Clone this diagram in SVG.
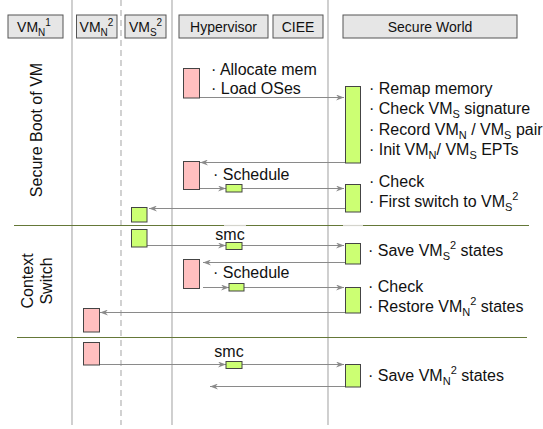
<svg xmlns="http://www.w3.org/2000/svg" width="543" height="429" viewBox="0 0 543 429">
  <style>
    text { font-family: "Liberation Sans", Arial, Helvetica, sans-serif; fill: #111; }
    .hdr rect { fill: #e6e6e6; stroke: #555; stroke-width: 1; }
    .hdr text { font-size: 14px; text-anchor: middle; }
    .body { font-size: 16px; }
    .lane { stroke: #c4c4c4; stroke-width: 1.6; }
    .lane-dash { stroke: #b4b4b4; stroke-width: 1.2; stroke-dasharray: 6 4; }
    .sep { stroke: #657838; stroke-width: 1; }
    .pink { fill: #ffc0c0; stroke: #444; stroke-width: 1; }
    .green { fill: #ccff73; stroke: #444; stroke-width: 1; }
    .conn line { stroke: #8a8a8a; stroke-width: 1; fill: none; }
    .conn line.arr { marker-end: url(#head); }
  </style>
  <defs>
    <marker id="head" viewBox="0 0 8 6" refX="8" refY="3" markerWidth="8" markerHeight="6" markerUnits="userSpaceOnUse" orient="auto">
      <path d="M0,0 L8,3 L0,6 L2.5,3 z" fill="#8a8a8a"/>
    </marker>
  </defs>

  <rect width="543" height="429" fill="#ffffff"/>

  <!-- swimlane dividers -->
  <g id="lanes">
    <line class="lane" x1="72" y1="0" x2="72" y2="425"/>
    <line class="lane-dash" x1="121" y1="0" x2="121" y2="425"/>
    <line class="lane" x1="172" y1="0" x2="172" y2="425"/>
    <line class="lane" x1="328" y1="0" x2="328" y2="425"/>
  </g>

  <!-- phase separators -->
  <g id="phases">
    <line class="sep" x1="14" y1="225.5" x2="529" y2="225.5"/>
    <line class="sep" x1="17" y1="337.5" x2="527" y2="337.5"/>
    <line x1="224" y1="225.5" x2="246" y2="225.5" stroke="#d4d4cc" stroke-width="1.2"/>
    <line x1="343" y1="225.5" x2="363" y2="225.5" stroke="#d4d4cc" stroke-width="1.2"/>
    <text class="body" transform="translate(42,130) rotate(-90)" text-anchor="middle">Secure Boot of VM</text>
    <text class="body" transform="translate(33,281) rotate(-90)" text-anchor="middle">Context</text>
    <text class="body" transform="translate(52,281) rotate(-90)" text-anchor="middle">Switch</text>
  </g>

  <!-- column headers -->
  <g id="hdr-vmn1" class="hdr">
    <rect x="8" y="15" width="55" height="23"/>
    <text x="34" y="32">VM<tspan font-size="10" dy="4">N</tspan><tspan font-size="10" dy="-10">1</tspan></text>
  </g>
  <g id="hdr-vmn2" class="hdr">
    <rect x="76.5" y="15" width="40.5" height="23"/>
    <text x="96.5" y="32">VM<tspan font-size="10" dy="4">N</tspan><tspan font-size="10" dy="-10">2</tspan></text>
  </g>
  <g id="hdr-vms2" class="hdr">
    <rect x="125" y="15" width="41" height="23"/>
    <text x="145.5" y="32">VM<tspan font-size="10" dy="4">S</tspan><tspan font-size="10" dy="-10">2</tspan></text>
  </g>
  <g id="hdr-hyp" class="hdr">
    <rect x="179" y="15" width="89" height="23"/>
    <text x="223.5" y="32">Hypervisor</text>
  </g>
  <g id="hdr-ciee" class="hdr">
    <rect x="273" y="15" width="50" height="23"/>
    <text x="298" y="32">CIEE</text>
  </g>
  <g id="hdr-sw" class="hdr">
    <rect x="343" y="15" width="174" height="23"/>
    <text x="430" y="32">Secure World</text>
  </g>

  <!-- connectors -->
  <g id="connectors" class="conn">
    <line class="arr" x1="199" y1="97.5" x2="344" y2="97.5"/>
    <line class="arr" x1="345" y1="162.5" x2="200" y2="162.5"/>
    <line class="arr" x1="199" y1="188.5" x2="226" y2="188.5"/>
    <line class="arr" x1="242" y1="188.5" x2="344" y2="188.5"/>
    <line class="arr" x1="345" y1="208.5" x2="149" y2="208.5"/>
    <line class="arr" x1="147" y1="245.5" x2="226" y2="245.5"/>
    <line class="arr" x1="242" y1="245.5" x2="344" y2="245.5"/>
    <line class="arr" x1="345" y1="262.5" x2="203" y2="262.5"/>
    <line class="arr" x1="203" y1="287.5" x2="229" y2="287.5"/>
    <line class="arr" x1="244" y1="287.5" x2="344" y2="287.5"/>
    <line class="arr" x1="345" y1="312.5" x2="100" y2="312.5"/>
    <line class="arr" x1="99" y1="364.5" x2="226" y2="364.5"/>
    <line class="arr" x1="242" y1="364.5" x2="344" y2="364.5"/>
    <line class="arr" x1="345" y1="386.5" x2="210" y2="386.5"/>
  </g>

  <!-- hypervisor activations -->
  <g id="hyp-boot">
    <rect class="pink" x="183.5" y="68.5" width="16" height="29.5"/>
    <text class="body" x="211" y="75">· Allocate mem</text>
    <text class="body" x="211" y="94">· Load OSes</text>
  </g>
  <g id="hyp-schedule1">
    <rect class="pink" x="183.5" y="161.5" width="16" height="28"/>
    <text class="body" x="213" y="180">· Schedule</text>
  </g>
  <g id="ciee-call1">
    <rect class="green" x="226" y="184.5" width="16" height="7.5"/>
  </g>
  <g id="hyp-schedule2">
    <rect class="pink" x="183.5" y="259.5" width="16" height="29"/>
    <text class="body" x="213" y="278">· Schedule</text>
  </g>
  <g id="ciee-call2">
    <rect class="green" x="229" y="283.5" width="15" height="7.5"/>
  </g>

  <!-- secure-world activations -->
  <g id="sw-boot">
    <rect class="green" x="345.5" y="86.5" width="15" height="76.5"/>
    <text class="body" x="369" y="94">· Remap memory</text>
    <text class="body" x="369" y="114">· Check VM<tspan font-size="11" dy="4">S</tspan><tspan dy="-4"> signature</tspan></text>
    <text class="body" x="369" y="134.5">· Record VM<tspan font-size="11" dy="4">N</tspan><tspan dy="-4"> / VM</tspan><tspan font-size="11" dy="4">S</tspan><tspan dy="-4"> pair</tspan></text>
    <text class="body" x="369" y="155">· Init VM<tspan font-size="11" dy="4">N</tspan><tspan dy="-4">/ VM</tspan><tspan font-size="11" dy="4">S</tspan><tspan dy="-4"> EPTs</tspan></text>
  </g>
  <g id="sw-first-switch">
    <rect class="green" x="345.5" y="184.5" width="15" height="27.5"/>
    <text class="body" x="369" y="187">· Check</text>
    <text class="body" x="369" y="207">· First switch to VM<tspan font-size="11" dy="4">S</tspan><tspan font-size="11" dy="-11">2</tspan></text>
  </g>
  <g id="sw-save-vms">
    <rect class="green" x="345.5" y="243.5" width="15" height="20.5"/>
    <text class="body" x="368" y="256">· Save VM<tspan font-size="11" dy="4">S</tspan><tspan font-size="11" dy="-11">2</tspan><tspan dy="7"> states</tspan></text>
  </g>
  <g id="sw-restore-vmn">
    <rect class="green" x="345.5" y="287.5" width="15" height="25.5"/>
    <text class="body" x="368" y="292">· Check</text>
    <text class="body" x="368" y="312">· Restore VM<tspan font-size="11" dy="4">N</tspan><tspan font-size="11" dy="-11">2</tspan><tspan dy="7"> states</tspan></text>
  </g>
  <g id="sw-save-vmn">
    <rect class="green" x="345.5" y="364.5" width="15" height="22.5"/>
    <text class="body" x="368" y="381">· Save VM<tspan font-size="11" dy="4">N</tspan><tspan font-size="11" dy="-11">2</tspan><tspan dy="7"> states</tspan></text>
  </g>

  <!-- guest VM activations -->
  <g id="vms2-enter">
    <rect class="green" x="131.5" y="207.5" width="15.5" height="14.5"/>
  </g>
  <g id="vms2-smc">
    <rect class="green" x="131.5" y="229.5" width="15.5" height="17.5"/>
  </g>
  <g id="smc1">
    <text class="body" x="230" y="240" text-anchor="middle">smc</text>
    <rect class="green" x="226" y="242.5" width="16" height="7"/>
  </g>
  <g id="vmn2-resume">
    <rect class="pink" x="83.5" y="308.5" width="16" height="23.5"/>
  </g>
  <g id="vmn2-smc">
    <rect class="pink" x="83.5" y="342.5" width="16" height="22.5"/>
  </g>
  <g id="smc2">
    <text class="body" x="229" y="357" text-anchor="middle">smc</text>
    <rect class="green" x="226" y="361.5" width="16" height="7"/>
  </g>
</svg>
